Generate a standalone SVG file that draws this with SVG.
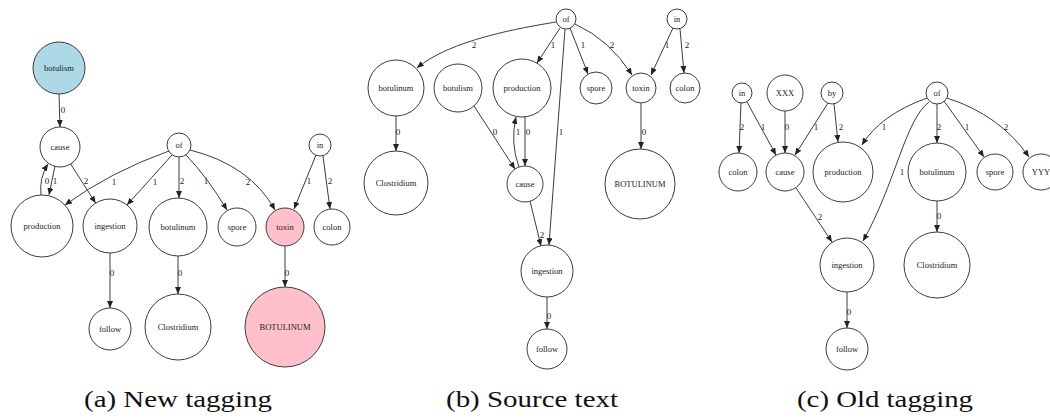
<svg xmlns="http://www.w3.org/2000/svg" width="1050" height="418" viewBox="0 0 1050 418">
  <style>
    .n circle { fill: #ffffff; stroke: #3c3c3c; stroke-width: 1; }
    .n text { font-family: "Liberation Serif", "Times New Roman", serif; font-size: 8.5px; fill: #222; text-anchor: middle; }
    .e path { fill: none; stroke: #3c3c3c; stroke-width: 1; marker-end: url(#arr); }
    .lbl text { font-family: "Liberation Serif", "Times New Roman", serif; font-size: 9px; fill: #222; text-anchor: middle; }
    .cap { font-family: "Liberation Serif", "Times New Roman", serif; font-size: 24px; fill: #111; }
    .blue { fill: #add8e6 !important; }
    .pink { fill: #ffc0cb !important; }
  </style>
  <defs>
    <marker id="arr" markerUnits="userSpaceOnUse" markerWidth="7" markerHeight="6" refX="7" refY="3" orient="auto">
      <path d="M0,0 L7,3 L0,6 z" fill="#222"/>
    </marker>
  </defs>
  <rect width="1050" height="418" fill="#ffffff"/>

  <!-- ===== (a) New tagging ===== -->
  <g id="a-nodes">
    <g class="n" id="a-botulism"><circle class="blue" cx="59" cy="68" r="26"/><text x="59" y="71">botulism</text></g>
    <g class="n" id="a-cause"><circle cx="60" cy="147" r="20"/><text x="60" y="150">cause</text></g>
    <g class="n" id="a-of"><circle cx="179" cy="145" r="12"/><text x="179" y="148">of</text></g>
    <g class="n" id="a-in"><circle cx="320" cy="145" r="11"/><text x="320" y="148">in</text></g>
    <g class="n" id="a-production"><circle cx="42" cy="226" r="31"/><text x="42" y="229">production</text></g>
    <g class="n" id="a-ingestion"><circle cx="110" cy="226" r="27"/><text x="110" y="229">ingestion</text></g>
    <g class="n" id="a-botulinum"><circle cx="178" cy="227" r="29"/><text x="178" y="230">botulinum</text></g>
    <g class="n" id="a-spore"><circle cx="237" cy="227" r="19"/><text x="237" y="230">spore</text></g>
    <g class="n" id="a-toxin"><circle class="pink" cx="285" cy="227" r="19"/><text x="285" y="230">toxin</text></g>
    <g class="n" id="a-colon"><circle cx="332" cy="227" r="18"/><text x="332" y="230">colon</text></g>
    <g class="n" id="a-follow"><circle cx="110" cy="329" r="21"/><text x="110" y="332">follow</text></g>
    <g class="n" id="a-clostridium"><circle cx="178" cy="327" r="33"/><text x="178" y="330">Clostridium</text></g>
    <g class="n" id="a-BOTULINUM"><circle class="pink" cx="285" cy="327" r="40"/><text x="285" y="330">BOTULINUM</text></g>
  </g>
  <g id="a-edges" class="e">
    <path d="M59,94 L60,127"/>
    <path d="M41,195 Q39,178 48,164"/>
    <path d="M55,166 Q52,180 49,195"/>
    <path d="M70.7,164 L95.6,203"/>
    <path d="M169,151 Q110,172 65,205"/>
    <path d="M172,155 L127,205"/>
    <path d="M179,157 L179,198"/>
    <path d="M186,155 Q208,178 227,210"/>
    <path d="M190,150 Q250,165 275,210"/>
    <path d="M316,155 L294,209"/>
    <path d="M323,156 L330,209"/>
    <path d="M110,253 L110,308"/>
    <path d="M178,256 L178,294"/>
    <path d="M285,246 L285,287"/>
  </g>
  <g id="a-labels" class="lbl">
    <text x="63" y="113">0</text>
    <text x="47" y="184">0</text>
    <text x="55" y="184">1</text>
    <text x="86" y="184">2</text>
    <text x="114" y="185">1</text>
    <text x="155" y="185">1</text>
    <text x="182" y="184">2</text>
    <text x="206" y="184">1</text>
    <text x="248" y="185">2</text>
    <text x="309" y="184">1</text>
    <text x="330" y="184">2</text>
    <text x="112" y="276">0</text>
    <text x="180" y="276">0</text>
    <text x="287" y="276">0</text>
  </g>

  <!-- ===== (b) Source text ===== -->
  <g id="b-nodes">
    <g class="n" id="b-of"><circle cx="566" cy="19" r="10"/><text x="566" y="22">of</text></g>
    <g class="n" id="b-in"><circle cx="677" cy="19" r="10"/><text x="677" y="22">in</text></g>
    <g class="n" id="b-botulinum"><circle cx="396" cy="88" r="28"/><text x="396" y="91">botulinum</text></g>
    <g class="n" id="b-botulism"><circle cx="458" cy="88" r="24"/><text x="458" y="91">botulism</text></g>
    <g class="n" id="b-production"><circle cx="522" cy="88" r="29"/><text x="522" y="91">production</text></g>
    <g class="n" id="b-spore"><circle cx="596" cy="88" r="16"/><text x="596" y="91">spore</text></g>
    <g class="n" id="b-toxin"><circle cx="641" cy="88" r="15"/><text x="641" y="91">toxin</text></g>
    <g class="n" id="b-colon"><circle cx="685" cy="88" r="15"/><text x="685" y="91">colon</text></g>
    <g class="n" id="b-clostridium"><circle cx="396" cy="183" r="32"/><text x="396" y="186">Clostridium</text></g>
    <g class="n" id="b-cause"><circle cx="525" cy="184" r="18"/><text x="525" y="187">cause</text></g>
    <g class="n" id="b-BOTULINUM"><circle cx="640" cy="184" r="35"/><text x="640" y="187">BOTULINUM</text></g>
    <g class="n" id="b-ingestion"><circle cx="547" cy="271" r="26"/><text x="547" y="274">ingestion</text></g>
    <g class="n" id="b-follow"><circle cx="547" cy="349" r="20"/><text x="547" y="352">follow</text></g>
  </g>
  <g id="b-edges" class="e">
    <path d="M556,22 C520,28 450,40 417,68"/>
    <path d="M560,28 L537,63"/>
    <path d="M565,29 L549,245"/>
    <path d="M570,28 L588,74"/>
    <path d="M575,24 Q610,40 632,75"/>
    <path d="M673,28 L651,75"/>
    <path d="M680,29 L684,73"/>
    <path d="M396,116 L396,151"/>
    <path d="M474,106 L515,169"/>
    <path d="M519,167 Q510,143 516,117"/>
    <path d="M525,117 L525,166"/>
    <path d="M530,201 L541,246"/>
    <path d="M641,103 L641,149"/>
    <path d="M547,297 L547,329"/>
  </g>
  <g id="b-labels" class="lbl">
    <text x="474" y="48">2</text>
    <text x="553" y="48">1</text>
    <text x="561" y="135">1</text>
    <text x="583" y="48">1</text>
    <text x="612" y="48">2</text>
    <text x="667" y="48">1</text>
    <text x="687" y="48">2</text>
    <text x="398" y="135">0</text>
    <text x="495" y="135">0</text>
    <text x="518" y="135">1</text>
    <text x="528" y="135">0</text>
    <text x="542" y="238">2</text>
    <text x="644" y="135">0</text>
    <text x="549" y="319">0</text>
  </g>

  <!-- ===== (c) Old tagging ===== -->
  <g id="c-nodes">
    <g class="n" id="c-in"><circle cx="742" cy="93" r="10"/><text x="742" y="96">in</text></g>
    <g class="n" id="c-XXX"><circle cx="785" cy="93" r="18"/><text x="785" y="96">XXX</text></g>
    <g class="n" id="c-by"><circle cx="832" cy="93" r="11"/><text x="832" y="96">by</text></g>
    <g class="n" id="c-of"><circle cx="937" cy="93" r="11"/><text x="937" y="96">of</text></g>
    <g class="n" id="c-colon"><circle cx="738" cy="172" r="19"/><text x="738" y="175">colon</text></g>
    <g class="n" id="c-cause"><circle cx="785" cy="172" r="19"/><text x="785" y="175">cause</text></g>
    <g class="n" id="c-production"><circle cx="843" cy="172" r="30"/><text x="843" y="175">production</text></g>
    <g class="n" id="c-botulinum"><circle cx="937" cy="172" r="29"/><text x="937" y="175">botulinum</text></g>
    <g class="n" id="c-spore"><circle cx="995" cy="172" r="18"/><text x="995" y="175">spore</text></g>
    <g class="n" id="c-YYY"><circle cx="1041" cy="172" r="18"/><text x="1041" y="175">YYY</text></g>
    <g class="n" id="c-ingestion"><circle cx="847" cy="265" r="27"/><text x="847" y="268">ingestion</text></g>
    <g class="n" id="c-clostridium"><circle cx="937" cy="265" r="33"/><text x="937" y="268">Clostridium</text></g>
    <g class="n" id="c-follow"><circle cx="847" cy="349" r="21"/><text x="847" y="352">follow</text></g>
  </g>
  <g id="c-edges" class="e">
    <path d="M741,103 L739,153"/>
    <path d="M747,102 L776,155"/>
    <path d="M785,111 L785,153"/>
    <path d="M828,103 L795,155"/>
    <path d="M834,104 L838,142"/>
    <path d="M927,98 Q880,115 862,145"/>
    <path d="M929,102 C905,120 895,185 863,241"/>
    <path d="M937,104 L937,143"/>
    <path d="M944,101 L984,157"/>
    <path d="M947,98 Q1000,115 1029,157"/>
    <path d="M796,188 L832,242"/>
    <path d="M937,201 L937,232"/>
    <path d="M847,292 L847,328"/>
  </g>
  <g id="c-labels" class="lbl">
    <text x="742" y="130">2</text>
    <text x="763" y="130">1</text>
    <text x="787" y="130">0</text>
    <text x="816" y="130">1</text>
    <text x="841" y="130">2</text>
    <text x="884" y="130">1</text>
    <text x="902" y="175">1</text>
    <text x="939" y="130">2</text>
    <text x="967" y="130">1</text>
    <text x="1006" y="130">2</text>
    <text x="820" y="220">2</text>
    <text x="939" y="219">0</text>
    <text x="849" y="315">0</text>
  </g>

  <!-- captions -->
  <g id="captions">
    <text class="cap" x="84" y="407" textLength="188" lengthAdjust="spacingAndGlyphs">(a) New tagging</text>
    <text class="cap" x="446" y="407" textLength="172" lengthAdjust="spacingAndGlyphs">(b) Source text</text>
    <text class="cap" x="797" y="407" textLength="176" lengthAdjust="spacingAndGlyphs">(c) Old tagging</text>
  </g>
</svg>
